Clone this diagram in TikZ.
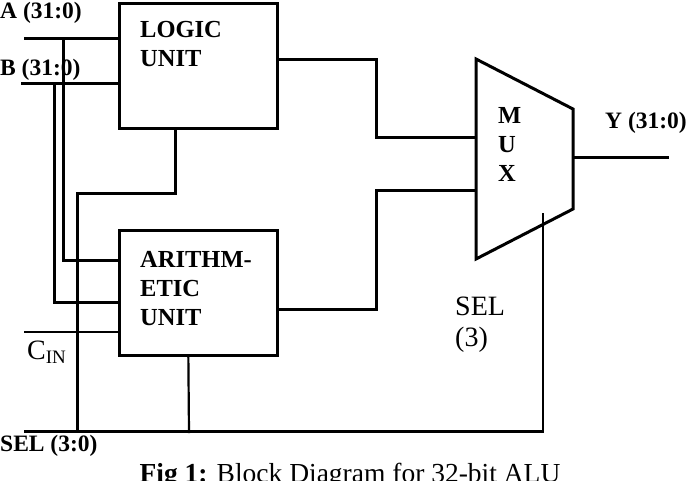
\documentclass[tikz,border=0pt]{standalone}
\usepackage{fontspec}
\setmainfont{Liberation Serif}
\usetikzlibrary{calc}

\begin{document}
\begin{tikzpicture}[x=1pt, y=-1pt,
    wire/.style={line width=3pt},
    thinwire/.style={line width=2.2pt},
    block/.style={draw, line width=3pt, minimum width=158pt,
                  minimum height=125pt, inner sep=0pt},
    boldlab/.style={font=\fontsize{24.5}{29}\selectfont\bfseries,
                    align=left, inner sep=0pt, anchor=base west},
    pinlab/.style={font=\fontsize{23.5}{29}\selectfont\bfseries,
                   inner sep=0pt, anchor=base west},
    plainlab/.style={font=\fontsize{28}{31}\selectfont,
                     align=left, inner sep=0pt, anchor=base west}
  ]
  \useasboundingbox (0,0) rectangle (690,480);
  \clip (0,0) rectangle (690,480);

  % blocks
  \node[block] (logic) at (198,65.5) {};
  \node[block] (arith) at (198,292.5) {};
  \coordinate (muxtl) at (476,59);
  \coordinate (muxtr) at (573,109);
  \coordinate (muxbr) at (573,209);
  \coordinate (muxbl) at (476,259);
  \draw[line width=3pt] (muxtl) -- (muxtr) -- (muxbr) -- (muxbl) -- cycle;

  % block texts (anchored on the last line)
  \node[boldlab] (logictxt) at (140,66) {LOGIC\\UNIT};
  \node[boldlab] (arithtxt) at (140,325) {ARITHM-\\ETIC\\UNIT};
  \node[boldlab] (muxtxt) at (498,181) {M\\U\\X};

  % inputs
  \coordinate (ain) at (24,38);
  \coordinate (bin) at (21,83);
  \coordinate (cin) at (24,332);
  \coordinate (selin) at (24,431);
  \coordinate (abr) at (63,38);
  \coordinate (bbr) at (54,83);
  \draw[wire] (ain) -- (ain -| logic.west);
  \draw[wire] (bin) -- (bin -| logic.west);
  \draw[wire] (abr) |- ($(arith.north west)!0.25!(arith.south west)$);
  \draw[wire] (bbr) |- ($(arith.north west)!0.58!(arith.south west)$);
  \draw[thinwire] (cin) -- (cin -| arith.west);

  % select bus
  \coordinate (selbr) at (77,433);
  \coordinate (selend) at (543,431);
  \coordinate (muxsel) at (543,213);
  \draw[wire] ($(logic.south west)!0.36!(logic.south east)$) |- (77,193) -- (selbr);
  \draw[thinwire] ($(arith.south west)!0.44!(arith.south east)$) -- (189,433);
  \draw[wire] (selin) -- (selend);
  \draw[thinwire] ([yshift=-1.5pt]selend) -- (muxsel);

  % to the mux
  \coordinate (muxin1) at (476,137);
  \coordinate (muxin2) at (476,190);
  \draw[wire] ($(logic.north east)!0.45!(logic.south east)$) -| (376,137) -- (muxin1);
  \draw[wire] ($(arith.north east)!0.63!(arith.south east)$) -| (376,190) -- (muxin2);

  % output
  \coordinate (muxout) at (573,157);
  \coordinate (yout) at (669,157);
  \draw[wire] (muxout) -- (yout);

  % labels
  \node[pinlab] (alab) at (0,18) {A (31:0)};
  \node[pinlab] (blab) at (0,75) {B (31:0)};
  \node[pinlab] (ylab) at (605,128) {Y (31:0)};
  \node[pinlab] (sellab) at (0,451) {SEL (3:0)};
  \node[plainlab] (cinlab) at (27,359) {C\raisebox{-4pt}{\fontsize{19}{19}\selectfont IN}};
  \node[plainlab] (sel3) at (455,346) {SEL\\(3)};
  \node[font=\fontsize{27.5}{30}\selectfont, inner sep=0pt, anchor=base] (caption)
    at (350,482) {\textbf{Fig 1:} Block Diagram for 32-bit ALU};
\end{tikzpicture}
\end{document}
